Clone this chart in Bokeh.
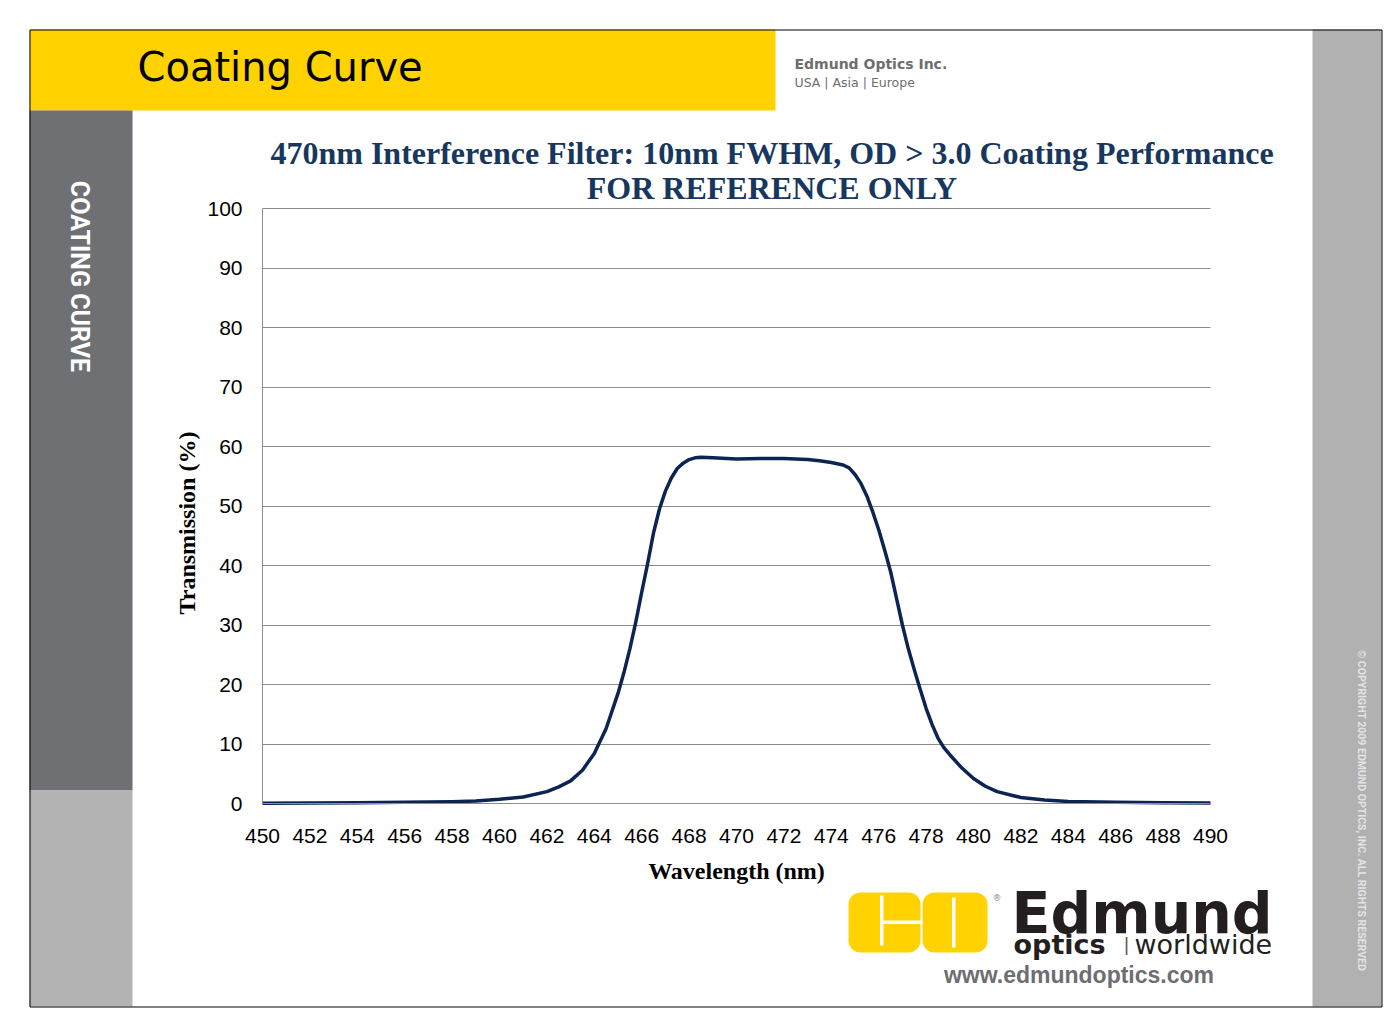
import math
from bokeh.plotting import figure
from bokeh.models import Range1d, FixedTicker, ColumnDataSource
from bokeh.core.properties import value
from bokeh.embed import file_html
from bokeh.resources import INLINE

# ---- data ----
wavelength = [450, 452, 454, 456, 458, 459, 460, 461, 462, 462.5, 463, 463.5, 464, 464.5,
              465, 465.25, 465.5, 465.75, 466, 466.25, 466.5, 466.75, 467, 467.25, 467.5,
              467.75, 468, 468.25, 468.5, 469, 470, 471, 472, 473, 473.5, 474, 474.25, 474.5,
              474.75, 475, 475.25, 475.5, 475.75, 476, 476.25, 476.5, 476.75, 477, 477.25,
              477.5, 477.75, 478, 478.25, 478.5, 478.75, 479, 479.5, 480, 480.5, 481,
              482, 483, 484, 486, 488, 490]
transmission = [0.05, 0.08, 0.12, 0.2, 0.3, 0.4, 0.7, 1.1, 2.0, 2.8, 3.8, 5.6, 8.4, 12.6,
                18.5, 22.0, 26.0, 30.5, 35.5, 40.3, 45.5, 49.5, 52.5, 54.7, 56.3,
                57.2, 57.8, 58.1, 58.2, 58.1, 57.9, 58.0, 58.0, 57.8, 57.6, 57.3, 57.1, 56.9,
                56.4, 55.3, 53.8, 51.7, 49.0, 46.0, 42.6, 39.0, 34.5, 30.0, 26.0,
                22.5, 19.2, 16.0, 13.3, 11.0, 9.4, 8.2, 6.0, 4.2, 2.9, 2.0,
                1.0, 0.6, 0.35, 0.2, 0.12, 0.1]
x_ticks = list(range(450, 491, 2))
y_ticks = list(range(0, 101, 10))
chart_title_1 = "470nm Interference Filter: 10nm FWHM, OD > 3.0 Coating Performance"
chart_title_2 = "FOR REFERENCE ONLY"

W, H = 1397, 1035
FL, FR, FT, FB = 262, 1210, 208, 803          # pixel box of the chart area
XMIN, XMAX, YMIN, YMAX = 450, 490, 0, 100


def dx(px):
    return XMIN + (px - FL) * (XMAX - XMIN) / (FR - FL)


def dy(py):
    return YMIN + (FB - py) * (YMAX - YMIN) / (FB - FT)


p = figure(width=W, height=H, output_backend="svg", toolbar_location=None,
           x_range=Range1d(dx(0), dx(W)), y_range=Range1d(dy(H), dy(0)),
           min_border=0)
p.min_border_left = p.min_border_right = p.min_border_top = p.min_border_bottom = 0
p.background_fill_color = "white"
p.border_fill_color = "white"
p.outline_line_color = None


# ---- page decorations ----
def box(l, r, t, b, color, radius=0):
    p.quad(left=[dx(l)], right=[dx(r)], top=[dy(t)], bottom=[dy(b)],
           fill_color=color, line_color=None, border_radius=radius)


box(29, 775, 29, 110, "#FFD200")
box(29, 132, 110, 790, "#6F7074")
box(29, 132, 790, 1006, "#B3B3B3")
box(1312, 1381, 29, 1006, "#B1B1B1")

# logo blocks
box(848, 920, 892, 952, "#FFD200", radius=12)
box(922, 987, 892, 952, "#FFD200", radius=12)
box(879.5, 883, 895, 945, "white")
box(881, 922, 920, 923.5, "white")
box(951.5, 955, 897, 947, "white")

# outer border
p.quad(left=[dx(29.5)], right=[dx(1381.5)], top=[dy(29.5)], bottom=[dy(1006.5)],
       fill_color=None, line_color="black", line_width=1)


def label(px, py, text, font, size, color="black", style="normal", align="left", angle=0):
    p.text(x=[dx(px)], y=[dy(py)], text=[text], text_font=value(font),
           text_font_size=size, text_color=color, text_font_style=style,
           text_align=align, text_baseline="middle", angle=math.radians(angle))


label(137, 66, "Coating Curve", "DejaVu Sans", "40px")
label(794, 63, "Edmund Optics Inc.", "DejaVu Sans", "14px", "#6E6E6E", "bold")
label(794, 81.5, "USA | Asia | Europe", "DejaVu Sans", "12.5px", "#6E6E6E")
label(79, 276, "COATING CURVE", "Roboto", "25px", "white", "bold", align="center", angle=-90)
label(1361, 810, "\u00a9 COPYRIGHT 2009 EDMUND OPTICS, INC. ALL RIGHTS RESERVED",
      "Roboto", "10.5px", "#E4E4E4", "bold", align="center", angle=-90)

label(771.5, 152, chart_title_1, "Liberation Serif", "32px", "#17375E", "bold", align="center")
label(771.5, 187.5, chart_title_2, "Liberation Serif", "32px", "#17375E", "bold", align="center")

label(1011, 912.5, "Edmund", "DejaVu Sans", "57px", "#231F20", "bold")
label(1013, 944, "optics", "DejaVu Sans", "27px", "#231F20", "bold")
label(1123, 944, "|", "DejaVu Sans", "18px", "#555555")
label(1134, 944, "worldwide", "DejaVu Sans", "27px", "#231F20")
label(992, 897, "\u00ae", "DejaVu Sans", "9px", "#888888")
label(1078.5, 974, "www.edmundoptics.com", "Liberation Sans", "23px", "#6D6E71", "bold",
      align="center")

# ---- the curve ----
src = ColumnDataSource(dict(x=wavelength, y=transmission))
p.line("x", "y", source=src, line_color="#0B2454", line_width=3.5, line_join="round")

# ---- axes / grid ----
xa = p.xaxis[0]
ya = p.yaxis[0]
xa.fixed_location = YMIN
ya.fixed_location = XMIN
xa.bounds = (XMIN, XMAX)
ya.bounds = (YMIN - 5.7, YMAX)      # centres the y label where the reference has it
xa.ticker = FixedTicker(ticks=x_ticks)
ya.ticker = FixedTicker(ticks=y_ticks)

p.xgrid.grid_line_color = None
yg = p.ygrid[0]
yg.ticker = FixedTicker(ticks=y_ticks)
yg.bounds = (YMIN, YMAX)
yg.grid_line_color = "#8C8C8C"
yg.grid_line_width = 1
if "cross_bounds" in yg.properties():
    yg.cross_bounds = (XMIN, XMAX)
else:
    yg.grid_line_color = None
    p.segment(x0=[XMIN] * len(y_ticks), x1=[XMAX] * len(y_ticks), y0=y_ticks, y1=y_ticks,
              line_color="#8C8C8C", line_width=1, level="underlay")

# left axis rule, from 0 to 100 only
p.segment(x0=[XMIN], x1=[XMIN], y0=[YMIN], y1=[YMAX], line_color="#8C8C8C", line_width=1)

for ax in (xa, ya):
    ax.major_tick_out = 0
    ax.major_tick_in = 0
    ax.minor_tick_out = 0
    ax.minor_tick_in = 0
    ax.axis_line_color = "#8C8C8C"
    ax.major_label_text_font = "Liberation Sans"
    ax.major_label_text_font_size = "21px"
    ax.major_label_text_color = "black"
    ax.axis_label_text_font = "Liberation Serif"
    ax.axis_label_text_font_size = "24px"
    ax.axis_label_text_font_style = "bold"
    ax.axis_label_text_color = "black"
ya.axis_line_color = None

xa.axis_label = "Wavelength (nm)"
ya.axis_label = "Transmission (%)"
xa.major_label_standoff = 25
ya.major_label_standoff = 20
xa.axis_label_standoff = 12
ya.axis_label_standoff = 4

open("out.html", "w").write(file_html(p, INLINE))
